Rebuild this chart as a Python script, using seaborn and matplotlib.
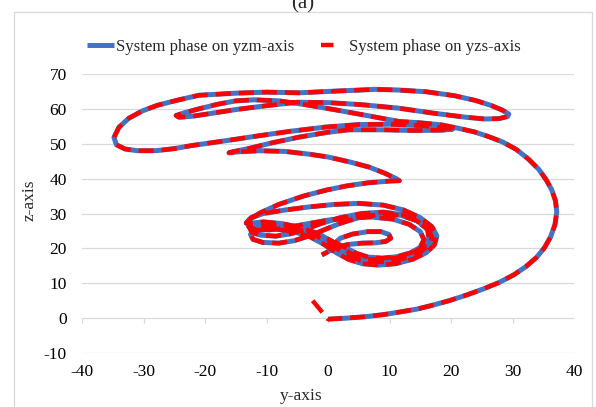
import matplotlib
matplotlib.use("Agg")
import matplotlib.pyplot as plt
from matplotlib.lines import Line2D
from matplotlib.patches import Rectangle
import seaborn as sns
import pandas as pd

# ---- trajectory of the master system (y, z) ----
# rising arc from the origin round the right side
arc_y = [0, 3, 6, 9, 11.5, 14.5, 17, 19.7, 22.5, 25.3, 27.8, 30.2, 32.2, 33.9, 35.2,
         36.2, 36.9, 37.2, 37.0, 36.4, 35.5, 34.3, 32.6, 30.6, 28.4, 26.2, 23.8, 21.3,
         18.5, 15, 11.5, 6, 0.65, -4, -8, -12]
arc_z = [-0.3, 0.0, 0.4, 1.0, 1.7, 2.6, 3.7, 5.0, 6.6, 8.4, 10.2, 12.4, 14.8, 17.4, 20.2,
         23.3, 26.8, 30.4, 33.6, 36.7, 39.6, 42.6, 45.6, 48.4, 50.5, 52.0, 53.4, 54.4,
         55.4, 56.0, 56.4, 58.2, 59.9, 61.3, 62.3, 62.6]

# upper wing: inner hairpin, right hairpin, outer loop and the fold back down
wing_y = [-15, -18, -21, -23.3, -24.7, -24.2, -22, -19, -15, -9.6, -5, 0, 5.5, 11.5, 17,
          22.4, 25.5, 27.8, 29.2, 29.4, 28.4, 26.5, 24, 20.5, 16, 11.5, 7.8, 0, -4.7, -10,
          -15, -21, -24.7, -27.8, -30.2, -32.4, -34, -34.8, -34.4, -33, -31, -28, -25,
          -22.1, -16.5, -11.2, -6, -0.3, 5, 10, 15, 18.5, 20.3, 18.5, 14, 9, 3.4, 0, -4.7,
          -9, -13, -15.5, -16.1, -14.5, -11.2, -7, -3, 0, 3.5, 6.7, 9.3, 11.2, 11.6, 10,
          6.5, 3, -0.3, -4, -8, -11, -12.8]
wing_z = [62.3, 61.3, 60.0, 58.9, 58.1, 57.6, 57.9, 58.7, 59.8, 61.0, 61.9, 61.8, 61.2,
          60.2, 58.8, 57.6, 57.1, 57.2, 57.8, 58.5, 59.6, 61.0, 62.4, 63.8, 64.9, 65.4,
          65.6, 65.0, 64.6, 64.8, 64.5, 63.9, 62.4, 61.0, 59.4, 57.3, 54.7, 51.8, 49.7,
          48.5, 48.0, 48.0, 48.6, 49.5, 50.9, 52.3, 53.6, 54.8, 55.5, 55.6, 55.2, 54.6,
          54.2, 53.9, 53.8, 54.0, 54.0, 53.3, 51.9, 50.3, 48.6, 47.7, 47.4, 47.7, 48.0,
          47.8, 47.0, 46.2, 44.8, 43.3, 41.5, 39.9, 39.4, 39.3, 38.8, 37.9, 36.7, 35.0,
          32.6, 30.2, 28.3]

# lower scroll: rings round the right focus with short excursions to the left
scroll_y = [-13.3, -12.5, -10.5, -7, -3, 1, 5, 9, 12.3, 15, 16.9, 17.7, 17.3, 16.0, 13.8,
            11.0, 8.2, 5.6, 3.4, 1.4, -0.7, -3, -5.8, -9, -11.6, -12.6, -12.2, -10.6, -8,
            -5.5, -3, -0.5, 2, 5, 8.5, 11.8, 14.4, 16.2, 16.9, 16.5, 15.0, 12.8, 10.2, 7.6,
            5.2, 3.2, 1.5, -0.5, -2.8, -5.5, -8.5, -11.2, -12.7, -12.4, -11, -8.5, -6, -3.5,
            -1, 2, 5.5, 9, 12, 14.6, 16.2, 16.4, 15.5, 13.7, 11.2, 8.5, 6, 4, 2.4, 0.6,
            -1.6, -4.4, -7.5, -10.5, -12.6, -12.9, -11.8, -9.5, -6.5, -3.5, 0, 3.5, 7,
            10.5, 13.2, 15.0, 15.6, 15.0, 13.4, 11.2, 8.8, 6.5, 4.6, 3.0, 1.2, 2, 4, 6.5,
            8.6, 9.9, 10.2, 9.4, 7.8, 5.5, 3.2, 1.2, -1]
scroll_z = [27.2, 28.8, 30.0, 31.0, 31.9, 32.6, 32.9, 32.4, 31.0, 28.8, 26.2, 23.6, 21.0,
            18.8, 16.9, 15.6, 15.2, 15.6, 16.8, 18.7, 21.2, 23.4, 24.9, 25.6, 25.2, 24.0,
            22.6, 21.7, 21.5, 22.2, 23.6, 25.4, 27.2, 28.8, 29.8, 29.5, 28.0, 25.8, 23.4,
            21.0, 18.9, 17.3, 16.3, 16.0, 16.6, 18.0, 19.9, 22.3, 24.4, 25.8, 26.6, 26.6,
            25.8, 24.6, 23.8, 23.5, 24.2, 25.6, 27.2, 28.8, 30.0, 30.4, 29.7, 27.8, 25.4,
            22.8, 20.5, 18.6, 17.3, 16.7, 17.0, 18.2, 19.9, 22.1, 24.2, 26.0, 27.1, 27.6,
            27.2, 26.2, 25.4, 25.3, 26.0, 27.0, 28.1, 28.8, 29.0, 28.4, 26.9, 24.8, 22.5,
            20.3, 18.7, 17.6, 17.2, 17.5, 18.6, 20.1, 21.6, 22.9, 24.1, 24.8, 24.8, 24.0,
            22.9, 22.0, 21.6, 21.5, 21.1, 20.2, 18.1]

yzm_y = arc_y + wing_y + scroll_y
yzm_z = arc_z + wing_z + scroll_z

# slave system: same path after a short initial transient
yzs_y = [-2.5] + yzm_y
yzs_z = [5.0] + yzm_z

x_ticks = [-40, -30, -20, -10, 0, 10, 20, 30, 40]
z_ticks = [-10, 0, 10, 20, 30, 40, 50, 60, 70]
labels = ["System phase on yzm-axis", "System phase on yzs-axis"]

BLUE = "#4472C4"
RED = "#FF0000"
GRID = "#D9D9D9"

sns.set_theme(style="white")
plt.rcParams["font.family"] = ["Liberation Serif", "DejaVu Serif"]

fig = plt.figure(figsize=(5.96, 4.07), dpi=100)
ax = fig.add_axes([82 / 596, 54 / 407, 492 / 596, 279 / 407])

master = pd.DataFrame({"y": yzm_y, "z": yzm_z})
slave = pd.DataFrame({"y": yzs_y, "z": yzs_z})

sns.lineplot(data=master, x="y", y="z", sort=False, estimator=None, ax=ax,
             color=BLUE, linewidth=3.6, solid_joinstyle="round", solid_capstyle="butt")
sns.lineplot(data=slave, x="y", y="z", sort=False, estimator=None, ax=ax,
             color=RED, linewidth=3.2)
red_line = ax.lines[-1]
red_line.set_linestyle((0, (3.4, 1.8)))
red_line.set_dash_capstyle("butt")
red_line.set_dash_joinstyle("round")

ax.set_xlim(-40, 40)
ax.set_ylim(-10, 70)
ax.set_xticks(x_ticks)
ax.set_yticks(z_ticks)
ax.set_xticklabels([str(v) for v in x_ticks])
ax.set_yticklabels([str(v) for v in z_ticks])
ax.tick_params(axis="both", length=0, labelsize=12.5, colors="#000000")
ax.tick_params(axis="y", pad=11)
ax.tick_params(axis="x", pad=8)

ax.yaxis.grid(True, color=GRID, linewidth=0.9)
ax.xaxis.grid(False)
ax.set_axisbelow(True)
for s in ax.spines.values():
    s.set_visible(False)
# small tick marks hanging below the z = 0 line
ax.vlines(x_ticks, -1.45, 0, colors=GRID, linewidth=0.9, zorder=0.5)

ax.set_xlabel("y-axis", fontsize=12.5, va="center")
ax.xaxis.set_label_coords(0.445, -0.154)
ax.set_ylabel("z-axis", fontsize=12.5, va="center", ha="center")
ax.yaxis.set_label_coords(-0.1057, 0.548)

handles = [
    Line2D([], [], color=BLUE, linewidth=3.6, solid_capstyle="butt"),
    Line2D([], [], color=RED, linewidth=3.2, linestyle=(0, (2.8, 8.0)), dash_capstyle="butt"),
]
fig.legend(handles, labels, loc="center", bbox_to_anchor=(304 / 596, 1 - 47 / 407),
           ncol=2, frameon=False, fontsize=12.1, handlelength=1.55, handletextpad=0.12,
           columnspacing=1.6)

fig.text(303 / 596, 1 - 8 / 407, "(a)", ha="center", va="baseline", fontsize=15)
fig.patches.append(Rectangle((14 / 596, -0.01), 578 / 596, 1 - 12 / 407 + 0.01,
                             transform=fig.transFigure, fill=False,
                             edgecolor=GRID, linewidth=0.9))

fig.savefig("out.png", dpi=100)
